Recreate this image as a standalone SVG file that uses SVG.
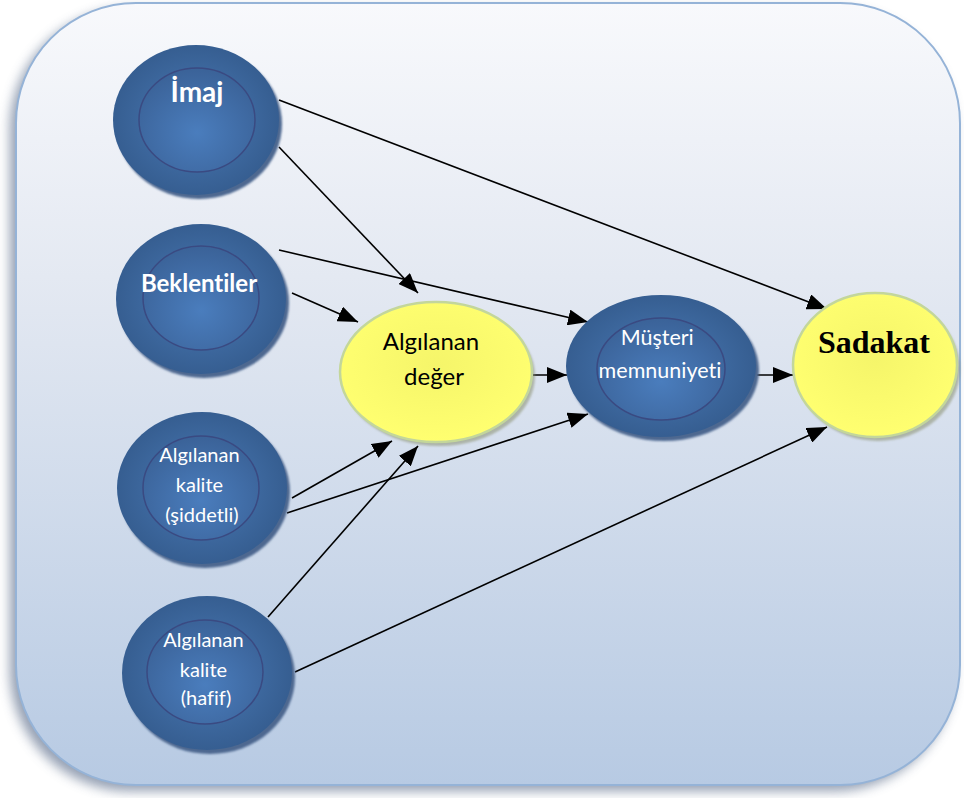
<svg xmlns="http://www.w3.org/2000/svg" width="964" height="798" viewBox="0 0 964 798">
  <style>
    .conn { stroke: #000; stroke-width: 1.6; fill: none; marker-end: url(#arrow); }
    .blue-outer { fill: url(#blueOuter); }
    .blue-inner { fill: url(#blueInner); stroke: #3a4a82; stroke-width: 1.5; }
    .blue-shadow { fill: #4d6890; }
    .yellow { fill: url(#yellowFill); stroke: #c3d69b; stroke-width: 2.5; }
    .yellow-shadow { fill: #8a9070; opacity: 0.55; }
    .wtxt { fill: #fff; font-family: Lato, "Open Sans", "Liberation Sans", sans-serif; text-anchor: middle; font-variant-ligatures: none; font-feature-settings: "liga" 0, "dlig" 0, "clig" 0; }
    .btxt { fill: #000; font-family: Lato, "Open Sans", "Liberation Sans", sans-serif; text-anchor: middle; font-variant-ligatures: none; font-feature-settings: "liga" 0, "dlig" 0, "clig" 0; }
  </style>
  <defs>
    <linearGradient id="bgGrad" x1="0" y1="0" x2="0" y2="1">
      <stop offset="0" stop-color="#f8f9fc"/>
      <stop offset="0.35" stop-color="#e4e9f2"/>
      <stop offset="1" stop-color="#b7cae3"/>
    </linearGradient>
    <radialGradient id="blueOuter" cx="0.5" cy="0.5" r="0.5">
      <stop offset="0" stop-color="#4a7ab6"/>
      <stop offset="1" stop-color="#365e91"/>
    </radialGradient>
    <radialGradient id="blueInner" cx="0.5" cy="0.62" r="0.6">
      <stop offset="0" stop-color="#4a7dbd"/>
      <stop offset="1" stop-color="#3b6399"/>
    </radialGradient>
    <radialGradient id="yellowFill" cx="0.5" cy="0.45" r="0.55">
      <stop offset="0" stop-color="#f5f56a"/>
      <stop offset="1" stop-color="#ffff70"/>
    </radialGradient>
    <filter id="bgShadow" x="-5%" y="-5%" width="110%" height="110%">
      <feGaussianBlur stdDeviation="6"/>
    </filter>
    <filter id="soft" x="-10%" y="-10%" width="120%" height="120%">
      <feGaussianBlur stdDeviation="1.2"/>
    </filter>
    <marker id="arrow" viewBox="0 0 20 16" refX="20" refY="8" markerWidth="20" markerHeight="16" markerUnits="userSpaceOnUse" orient="auto">
      <path d="M0,0 L20,8 L0,16 z" fill="#000"/>
    </marker>
  </defs>

  <!-- panel -->
  <g id="panel">
    <rect x="10" y="9" width="944" height="782" rx="120" ry="120" fill="#6f7f99" opacity="0.75" filter="url(#bgShadow)"/>
    <rect x="16" y="3" width="944" height="782" rx="120" ry="120" fill="url(#bgGrad)" stroke="#95b3d7" stroke-width="2"/>
  </g>

  <!-- connectors -->
  <g id="connectors">
    <line class="conn" x1="279" y1="100" x2="827" y2="309"/>
    <line class="conn" x1="279" y1="147" x2="418" y2="293"/>
    <line class="conn" x1="279" y1="250" x2="588" y2="322"/>
    <line class="conn" x1="292" y1="293" x2="358" y2="322"/>
    <line class="conn" x1="530" y1="375" x2="567" y2="375"/>
    <line class="conn" x1="757" y1="375" x2="793" y2="375"/>
    <line class="conn" x1="292" y1="498" x2="392" y2="441"/>
    <line class="conn" x1="287" y1="513" x2="588" y2="414"/>
    <line class="conn" x1="268" y1="617" x2="418" y2="446"/>
    <line class="conn" x1="295" y1="672" x2="827" y2="427"/>
  </g>

  <!-- nodes -->
  <g id="imaj">
    <ellipse class="blue-shadow" cx="199" cy="124" rx="83" ry="75" filter="url(#soft)"/>
    <ellipse class="blue-outer" cx="196" cy="120" rx="83" ry="75"/>
    <ellipse class="blue-inner" cx="197" cy="120" rx="58" ry="52"/>
    <text class="wtxt" x="197" y="102" font-size="28" font-weight="bold">İmaj</text>
  </g>

  <g id="beklentiler">
    <ellipse class="blue-shadow" cx="204" cy="303" rx="85" ry="75" filter="url(#soft)"/>
    <ellipse class="blue-outer" cx="201" cy="299" rx="85" ry="75"/>
    <ellipse class="blue-inner" cx="201" cy="298" rx="58" ry="52"/>
    <text class="wtxt" x="199" y="292" font-size="24" font-weight="bold">Beklentiler</text>
  </g>

  <g id="kalite-siddetli">
    <ellipse class="blue-shadow" cx="205" cy="492" rx="85" ry="76" filter="url(#soft)"/>
    <ellipse class="blue-outer" cx="202" cy="488" rx="85" ry="76"/>
    <ellipse class="blue-inner" cx="201" cy="488" rx="58" ry="52"/>
    <text class="wtxt" font-size="20">
      <tspan x="202" y="462">Algılanan</tspan>
      <tspan x="202" y="492">kalite</tspan>
      <tspan x="202" y="522">(şiddetli)</tspan>
    </text>
  </g>

  <g id="kalite-hafif">
    <ellipse class="blue-shadow" cx="210" cy="677" rx="85" ry="77" filter="url(#soft)"/>
    <ellipse class="blue-outer" cx="207" cy="673" rx="85" ry="77"/>
    <ellipse class="blue-inner" cx="205" cy="672" rx="58" ry="52"/>
    <text class="wtxt" font-size="20">
      <tspan x="206" y="647">Algılanan</tspan>
      <tspan x="206" y="677">kalite</tspan>
      <tspan x="206" y="705">(hafif)</tspan>
    </text>
  </g>

  <g id="algilanan-deger">
    <ellipse class="yellow-shadow" cx="439" cy="376" rx="96" ry="70" filter="url(#soft)"/>
    <ellipse class="yellow" cx="436" cy="372" rx="96" ry="70"/>
    <text class="btxt" font-size="24">
      <tspan x="434" y="350">Algılanan</tspan>
      <tspan x="434" y="385">değer</tspan>
    </text>
  </g>

  <g id="musteri-memnuniyeti">
    <ellipse class="blue-shadow" cx="664" cy="370" rx="95" ry="71" filter="url(#soft)"/>
    <ellipse class="blue-outer" cx="661" cy="366" rx="95" ry="71"/>
    <ellipse class="blue-inner" cx="661" cy="369" rx="64" ry="51"/>
    <text class="wtxt" font-size="21.5">
      <tspan x="660" y="345">Müşteri</tspan>
      <tspan x="660" y="378">memnuniyeti</tspan>
    </text>
  </g>

  <g id="sadakat">
    <ellipse class="yellow-shadow" cx="878" cy="369" rx="82" ry="72" filter="url(#soft)"/>
    <ellipse class="yellow" cx="875" cy="365" rx="82" ry="72"/>
    <text x="874" y="353" font-family="'Liberation Serif', 'Times New Roman', serif" font-size="32" font-weight="bold" text-anchor="middle" fill="#000">Sadakat</text>
  </g>
</svg>
